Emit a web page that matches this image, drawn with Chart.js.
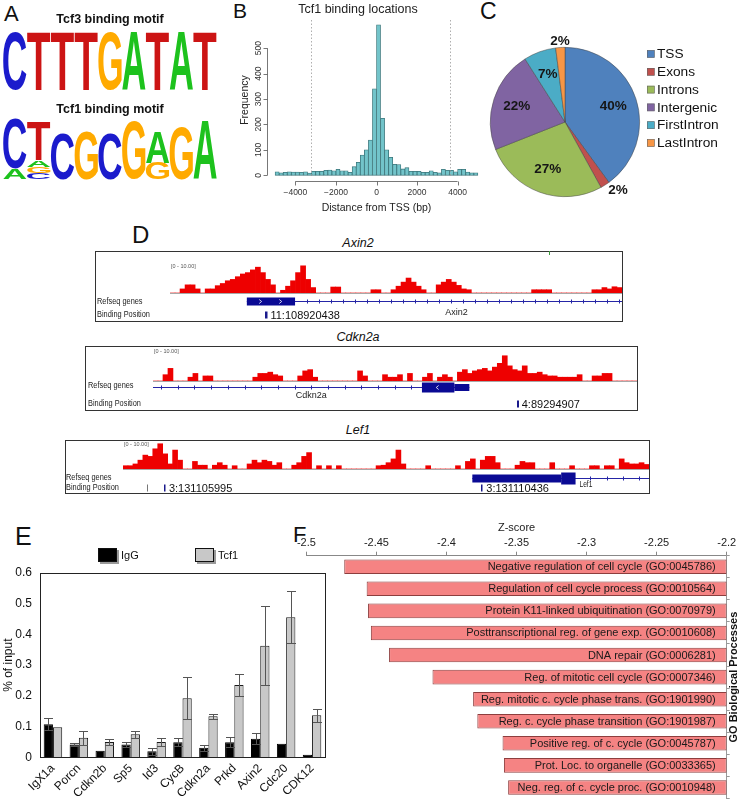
<!DOCTYPE html>
<html>
<head>
<meta charset="utf-8">
<script src="https://cdn.jsdelivr.net/npm/chart.js@4.4.1/dist/chart.umd.min.js"></script>
<style>
html,body{margin:0;padding:0;background:#fff;}
body{width:740px;height:800px;position:relative;overflow:hidden;font-family:'Liberation Sans',Arial,sans-serif;color:#111;}
canvas{position:absolute;display:block;}
.pl{position:absolute;line-height:1;color:#111;}
.tt{position:absolute;font-style:italic;font-size:12.5px;line-height:14px;width:200px;text-align:center;color:#111;}
</style>
</head>
<body>
<div class="pl" style="left:4px;top:3px;font-size:22px">A</div>
<div class="pl" style="left:233px;top:0px;font-size:21px">B</div>
<div class="pl" style="left:480px;top:0px;font-size:23px">C</div>
<div class="pl" style="left:132px;top:223px;font-size:24px">D</div>
<div class="pl" style="left:15px;top:524px;font-size:25px">E</div>
<div class="pl" style="left:293px;top:524px;font-size:22px">F</div>

<div class="tt" style="left:258px;top:236px">Axin2</div>
<div class="tt" style="left:258px;top:330px">Cdkn2a</div>
<div class="tt" style="left:258px;top:423px">Lef1</div>

<canvas id="cA1" width="220" height="92" style="left:0;top:0"></canvas>
<canvas id="cA2" width="220" height="86" style="left:0;top:95px"></canvas>
<canvas id="cB" width="256" height="215" style="left:230px;top:0"></canvas>
<canvas id="cC" width="255" height="170" style="left:485px;top:30px"></canvas>
<canvas id="cD1" width="528" height="71" style="left:95px;top:251px"></canvas>
<canvas id="cD2" width="553" height="65" style="left:85px;top:346px"></canvas>
<canvas id="cD3" width="585" height="54" style="left:65px;top:440px"></canvas>
<canvas id="cE" width="335" height="260" style="left:0;top:540px"></canvas>
<canvas id="cF" width="450" height="285" style="left:290px;top:515px"></canvas>

<script>
// ---------------- DATA ----------------
// A: sequence logos (information content in bits per position)
const motifPositions = ['1','2','3','4','5','6','7','8','9'];
const tcf3Letters = ['C','T','T','T','G','A','T','A','T'];
const tcf3Bits    = [2, 2, 2, 2, 2, 2, 2, 2, 2];
const tcf1Layer1Letters = ['A','C','C','G','C','G','G','G','A'];
const tcf1Layer1Bits    = [0.35,0.21,1.5,1.59,1.5,1.89,0.54,1.72,1.91];
const tcf1Layer2Letters = ['C','G','','','','','A','',''];
const tcf1Layer2Bits    = [1.61,0.19,0,0,0,0,1.0,0,0];
const tcf1Layer3Letters = ['','A','','','','','','',''];
const tcf1Layer3Bits    = [0,0.21,0,0,0,0,0,0,0];
const tcf1Layer4Letters = ['','T','','','','','','',''];
const tcf1Layer4Bits    = [0,1.24,0,0,0,0,0,0,0];

// B: histogram of binding distance from TSS (200 bp bins)
const histBinCenters = [-4900,-4700,-4500,-4300,-4100,-3900,-3700,-3500,-3300,-3100,
  -2900,-2700,-2500,-2300,-2100,-1900,-1700,-1500,-1300,-1100,
  -900,-700,-500,-300,-100,100,300,500,700,900,
  1100,1300,1500,1700,1900,2100,2300,2500,2700,2900,
  3100,3300,3500,3700,3900,4100,4300,4500,4700,4900];
const histCounts = [14,10,12,14,13,13,12,14,9,16,
  16,16,20,21,18,24,18,18,12,34,
  51,80,100,139,340,592,224,100,71,43,
  42,25,30,16,16,16,12,12,18,12,
  10,24,20,20,14,24,24,13,10,10];
const histXTicks = [-4000,-2000,0,2000,4000];
const histYTicks = [0,100,200,300,400,500];
const histMarkers = [-3250,3600];

// C: genomic distribution (%)
const pieLabels = ['TSS','Exons','Introns','Intergenic','FirstIntron','LastIntron'];
const pieValues = [40,2,27,22,7,2];

// D: ChIP-seq signal tracks (binned coverage, 0-10 scale)
const axin2Signal = [0,0,1.5,3,3,1.5,0,1.5,1.5,2.7,
  3.5,4.5,5,6,7,7.5,8.5,9.5,7.5,5,
  3,0,1,2.5,4.5,7.5,10,5,2,0,
  0,0,2.2,2.2,0,0,0,0,0,0,
  1.2,1.2,0,0,1.2,2.5,4,5.5,4,2.5,
  1.2,0,0,3,4,5,4,2.8,1.5,1.2,
  0,0,0,0,0,0,0,0,0,0,
  0,0,1.2,1.2,1.2,1.2,0,0,0,0,
  0,0,0,0,1.2,1.2,2,1.5,2.3,2];
const axin2Exons = [[15.3,24.9]];
const axin2GeneSpan = [15.3,90];
const axin2BindSites = [19.2];
const axin2BindLabels = ['11:108920438'];
const axin2GeneNameAt = [57];

const cdkn2aSignal = [0,0,2.5,5,0,0,0,1.5,3,0,
  2,2,0,0,0,0,0,0,0,0,
  1.5,3,3,3.5,2.5,2,0,0,0,2,
  4,4.5,1.5,0,0,0,0,0,0,0,
  0,4,2,0,0,0,2.5,1.5,1.5,2.5,
  0,3,0,0,1.5,3,0,1.5,2.5,1.5,
  0,3.5,4.5,3,4,4.5,5,4,5.5,7,
  10,6,4.5,4,6,3,3,3.5,2.5,2,
  2,1.5,1.5,1.5,1.5,2.5,0,0,2,2,
  3,3,0,0,0,0,0];
const cdkn2aExons = [[53.9,60.4],[60.4,63.4]];
const cdkn2aGeneSpan = [0,63.4];
const cdkn2aBindSites = [73.1];
const cdkn2aBindLabels = ['4:89294907'];
const cdkn2aGeneNameAt = [31.7];

const lef1Signal = [1.3,1.3,2,3.5,5.5,5,8,10,6,2,
  7.5,3.5,0,0,3,1.5,1.5,0,1.5,2.5,
  1.5,0,1.3,0,0,2,3.5,2.5,3.5,3,
  1.5,2.5,0,0,1.5,2.5,5,6.5,0,1.3,
  0,1.3,0,1.3,0,0,0,0,0,0,
  0,1.3,1.5,2.5,4,7.5,2,0,0,0,
  0,1.3,0,0,0,0,0,1.3,0,3,
  4,0,3.5,5,5,2.5,0,0,0,1.5,
  3,2.5,2.5,0,0,0,2.5,0,0,0,
  1.3,0,0,0,1.3,1.3,0,1.3,1.3,0,
  4,2.5,2,2,2.5,1.8];
const lef1Exons = [[70.4,88.3],[88.3,91.2]];
const lef1GeneSpan = [70.4,106];
const lef1BindSites = [5.0,8.45,72.4];
const lef1BindLabels = ['','3:131105995','3:131110436'];
const lef1GeneNameAt = [93.2];

// E: ChIP-qPCR (% of input)
const eGenes = ['IgX1a','Porcn','Cdkn2b','Sp5','Id3','CycB','Cdkn2a','Prkd','Axin2','Cdc20','CDK12'];
const iggValues = [0.108,0.042,0.021,0.042,0.020,0.049,0.031,0.049,0.060,0.044,0.008];
const iggErrors = [0.019,0.004,0,0.009,0.011,0.013,0.009,0.016,0.018,0,0];
const tcf1Values = [0.098,0.064,0.050,0.075,0.050,0.192,0.134,0.235,0.363,0.456,0.137];
const tcf1Errors = [0,0.023,0.011,0.011,0.013,0.068,0.008,0.035,0.128,0.085,0.021];
const eYTicks = [0,0.1,0.2,0.3,0.4,0.5,0.6];

// F: GO enrichment z-scores
const goTerms = ['Negative regulation of cell cycle (GO:0045786)',
  'Regulation of cell cycle process (GO:0010564)',
  'Protein K11-linked ubiquitination (GO:0070979)',
  'Posttranscriptional reg. of gene exp. (GO:0010608)',
  'DNA repair (GO:0006281)',
  'Reg. of mitotic cell cycle (GO:0007346)',
  'Reg. mitotic c. cycle phase trans. (GO:1901990)',
  'Reg. c. cycle phase transition (GO:1901987)',
  'Positive reg. of c. cycle (GO:0045787)',
  'Prot. Loc. to organelle (GO:0033365)',
  'Neg. reg. of c. cycle proc. (GO:0010948)'];
const zScores = [-2.473,-2.457,-2.456,-2.454,-2.441,-2.410,-2.381,-2.378,-2.360,-2.359,-2.356];
const zTicks = [-2.5,-2.45,-2.4,-2.35,-2.3,-2.25,-2.2];
const zRight = -2.2;

// ---------------- SETUP ----------------
const FONT = "'Liberation Sans', Arial, Helvetica, sans-serif";
Chart.defaults.font.family = FONT;
Chart.defaults.color = '#222';
Chart.defaults.animation = false;
Chart.defaults.responsive = false;
Chart.defaults.maintainAspectRatio = false;
Chart.defaults.devicePixelRatio = 1;
Chart.defaults.events = [];
Chart.defaults.plugins.legend.display = false;
Chart.defaults.plugins.tooltip.enabled = false;

const letterColors = {A:'#1DC21D', C:'#1B1BCC', G:'#FFAA00', T:'#CC1414'};

function drawLetter(ctx, ch, x, y, w, h, color) {
  ctx.save();
  ctx.font = 'bold 100px ' + FONT;
  const m = ctx.measureText(ch);
  const gw = m.actualBoundingBoxLeft + m.actualBoundingBoxRight;
  const gh = m.actualBoundingBoxAscent + m.actualBoundingBoxDescent;
  ctx.translate(x, y);
  ctx.scale(w / gw, h / gh);
  ctx.fillStyle = color;
  ctx.textAlign = 'left';
  ctx.textBaseline = 'alphabetic';
  ctx.fillText(ch, m.actualBoundingBoxLeft, m.actualBoundingBoxAscent);
  ctx.restore();
}

const logoPlugin = {
  id: 'logoLetters',
  afterDatasetsDraw(chart) {
    const ctx = chart.ctx;
    chart.data.datasets.forEach((ds, di) => {
      const meta = chart.getDatasetMeta(di);
      meta.data.forEach((bar, i) => {
        const L = ds.letters[i];
        if (!L || !ds.data[i]) return;
        const p = bar.getProps(['x','y','base','width'], true);
        const top = Math.min(p.y, p.base), h = Math.abs(p.base - p.y);
        drawLetter(ctx, L, p.x - p.width / 2, top, p.width, h, letterColors[L]);
      });
    });
  }
};

function logoChart(id, title, layers, titlePad, padBottom) {
  return new Chart(document.getElementById(id), {
    type: 'bar',
    data: {
      labels: motifPositions,
      datasets: layers.map(l => ({data: l.bits, letters: l.letters, backgroundColor: 'rgba(0,0,0,0)',
        borderWidth: 0, barPercentage: 0.98, categoryPercentage: 1}))
    },
    options: {
      layout: {padding: {left: 3, right: 3, top: 0, bottom: padBottom}},
      plugins: {title: {display: true, text: title, color: '#111',
        font: {size: 12.5, weight: 'bold'}, padding: titlePad}},
      scales: {x: {display: false, stacked: true}, y: {display: false, stacked: true, min: 0, max: 2}}
    },
    plugins: [logoPlugin]
  });
}
logoChart('cA1', 'Tcf3 binding motif', [{bits: tcf3Bits, letters: tcf3Letters}], {top: 12.5, bottom: 4.5}, 2);
logoChart('cA2', 'Tcf1 binding motif', [
  {bits: tcf1Layer1Bits, letters: tcf1Layer1Letters},
  {bits: tcf1Layer2Bits, letters: tcf1Layer2Letters},
  {bits: tcf1Layer3Bits, letters: tcf1Layer3Letters},
  {bits: tcf1Layer4Bits, letters: tcf1Layer4Letters}], {top: 7.5, bottom: 0}, 1.7);

// ---------------- B ----------------
const minusFmt = v => (v < 0 ? '\u2212' + Math.abs(v) : String(v));
const rAxesPlugin = {
  id: 'rAxes',
  afterDraw(chart) {
    const ctx = chart.ctx, xs = chart.scales.x, ys = chart.scales.y, ca = chart.chartArea;
    ctx.save();
    ctx.strokeStyle = '#555'; ctx.lineWidth = 0.8;
    const y0 = Math.round(ca.bottom) + 0.5;
    ctx.beginPath();
    ctx.moveTo(xs.getPixelForValue(histXTicks[0]), y0);
    ctx.lineTo(xs.getPixelForValue(histXTicks[histXTicks.length - 1]), y0);
    histXTicks.forEach(v => { const x = Math.round(xs.getPixelForValue(v)) + 0.5; ctx.moveTo(x, y0); ctx.lineTo(x, y0 + 4); });
    const x0 = Math.round(ca.left) + 0.5;
    ctx.moveTo(x0, ys.getPixelForValue(histYTicks[0]));
    ctx.lineTo(x0, ys.getPixelForValue(histYTicks[histYTicks.length - 1]));
    histYTicks.forEach(v => { const y = Math.round(ys.getPixelForValue(v)) + 0.5; ctx.moveTo(x0, y); ctx.lineTo(x0 - 4, y); });
    ctx.stroke();
    ctx.setLineDash([1.5, 2]); ctx.strokeStyle = '#9a9a9a';
    ctx.beginPath();
    histMarkers.forEach(v => { const x = Math.round(xs.getPixelForValue(v)) + 0.5; ctx.moveTo(x, ca.top + 1); ctx.lineTo(x, ca.bottom - 4); });
    ctx.stroke();
    ctx.restore();
  }
};
new Chart(document.getElementById('cB'), {
  type: 'bar',
  data: {datasets: [{data: histBinCenters.map((c, i) => ({x: c, y: histCounts[i]})),
    backgroundColor: '#72C4CA', borderColor: '#3B7479', borderWidth: 0.8, borderSkipped: false,
    barPercentage: 1, categoryPercentage: 1}]},
  options: {
    layout: {padding: 0},
    plugins: {title: {display: true, text: 'Tcf1 binding locations', color: '#222',
      font: {size: 12.5, weight: 'normal'}, padding: {top: 2, bottom: 2}}},
    scales: {
      x: {type: 'linear', min: -5400, max: 5400, offset: false,
        grid: {display: false, drawTicks: false}, border: {display: false},
        afterBuildTicks: s => { s.ticks = histXTicks.map(v => ({value: v})); },
        afterFit: s => { s.height = 34; },
        ticks: {font: {size: 8.5}, color: '#333', padding: 7, maxRotation: 0, autoSkip: false, callback: v => minusFmt(v)},
        title: {display: true, text: 'Distance from TSS (bp)', color: '#222', font: {size: 10.5}, padding: {top: 0, bottom: 0.7}}},
      y: {min: -22.4, max: 615,
        grid: {display: false, drawTicks: false}, border: {display: false},
        afterBuildTicks: s => { s.ticks = histYTicks.map(v => ({value: v})); },
        afterFit: s => { s.width = 37; },
        ticks: {font: {size: 8.5}, color: '#333', minRotation: 90, maxRotation: 90, crossAlign: 'center', padding: 1, autoSkip: false},
        title: {display: true, text: 'Frequency', color: '#222', font: {size: 10.5}, padding: {top: 8.7, bottom: 0}}}
    }
  },
  plugins: [rAxesPlugin]
});

// ---------------- C ----------------
const pieColors = ['#4F81BD','#C0504D','#9BBB59','#8064A2','#4BACC6','#F79646'];
const pieTextPlugin = {
  id: 'pieText',
  afterDatasetsDraw(chart) {
    const ctx = chart.ctx, meta = chart.getDatasetMeta(0), ds = chart.data.datasets[0];
    ctx.save();
    ctx.font = 'bold 13.5px ' + FONT; ctx.fillStyle = '#161616'; ctx.textBaseline = 'middle';
    meta.data.forEach((arc, i) => {
      const p = arc.getProps(['x','y','startAngle','endAngle','outerRadius'], true);
      const mid = (p.startAngle + p.endAngle) / 2, c = Math.cos(mid), s = Math.sin(mid);
      const txt = ds.data[i] + '%';
      if (ds.data[i] < 5) {
        const r = p.outerRadius * 1.08;
        ctx.textAlign = Math.abs(c) < 0.2 ? 'center' : (c > 0 ? 'left' : 'right');
        ctx.fillText(txt, p.x + c * r, p.y + s * r);
      } else {
        const r = p.outerRadius * 0.68;
        ctx.textAlign = 'center';
        ctx.fillText(txt, p.x + c * r, p.y + s * r);
      }
    });
    const x0 = chart.chartArea.right + 7, y0 = 24;
    ctx.font = '13.7px ' + FONT; ctx.textAlign = 'left';
    chart.data.labels.forEach((lab, i) => {
      const y = y0 + i * 17.8;
      ctx.fillStyle = pieColors[i]; ctx.fillRect(x0, y - 3.8, 7.5, 7.5);
      ctx.strokeStyle = '#666'; ctx.lineWidth = 0.6; ctx.strokeRect(x0 + 0.3, y - 3.5, 7, 7);
      ctx.fillStyle = '#111'; ctx.fillText(lab, x0 + 10, y + 0.5);
    });
    ctx.restore();
  }
};
new Chart(document.getElementById('cC'), {
  type: 'pie',
  data: {labels: pieLabels, datasets: [{data: pieValues, backgroundColor: pieColors,
    borderColor: 'rgba(70,70,70,0.7)', borderWidth: 0.7, hoverOffset: 0, offset: 0}]},
  options: {layout: {padding: {left: 5, top: 17, right: 100, bottom: 3}}},
  plugins: [pieTextPlugin]
});

// ---------------- D ----------------
function condText(ctx, t, x, y, size, sx, color) {
  ctx.save(); ctx.font = size + 'px ' + FONT; ctx.translate(x, y); ctx.scale(sx, 1);
  ctx.textAlign = 'left'; ctx.textBaseline = 'middle'; ctx.fillStyle = color || '#222';
  ctx.fillText(t, 0, 0); ctx.restore();
}
const trackPlugin = {
  id: 'track',
  afterDatasetsDraw(chart, args, o) {
    const ctx = chart.ctx, xs = chart.scales.x, ca = chart.chartArea, W = chart.width, H = chart.height;
    const X = v => xs.getPixelForValue(v);
    ctx.save();
    ctx.strokeStyle = '#333'; ctx.lineWidth = 1; ctx.strokeRect(0.5, 0.5, W - 1, H - 1);
    ctx.strokeStyle = '#A8A8A8'; ctx.beginPath();
    ctx.moveTo(ca.left, Math.round(ca.bottom) + 0.5); ctx.lineTo(ca.right, Math.round(ca.bottom) + 0.5); ctx.stroke();
    ctx.fillStyle = '#555'; ctx.font = '5.5px ' + FONT; ctx.textBaseline = 'middle'; ctx.textAlign = 'left';
    ctx.fillText('[0 - 10.00]', ca.left + 1, o.rangeY);
    condText(ctx, 'Refseq genes', o.labelX, o.refY, 9, 0.82);
    condText(ctx, 'Binding Position', o.labelX, o.bindY, 9, 0.82);
    const gy = o.geneY;
    ctx.strokeStyle = '#2525A6'; ctx.lineWidth = 1;
    ctx.beginPath(); ctx.moveTo(X(o.span[0]), gy + 0.5); ctx.lineTo(X(o.span[1]), gy + 0.5); ctx.stroke();
    const inExon = px => o.exons.some(e => px >= X(e[0]) - 2 && px <= X(e[1]) + 2);
    ctx.beginPath();
    for (let px = X(o.span[0]) + o.tickOffset; px < X(o.span[1]) - 1; px += o.tickStep) {
      if (inExon(px)) continue;
      const rx = Math.round(px) + 0.5; ctx.moveTo(rx, gy - 1.5); ctx.lineTo(rx, gy + 2.5);
    }
    ctx.stroke();
    ctx.fillStyle = '#0A0A94';
    o.exons.forEach((e, i) => { const h = o.exonH[i]; ctx.fillRect(X(e[0]), gy + 0.5 - h / 2, X(e[1]) - X(e[0]), h); });
    ctx.strokeStyle = '#ffffff'; ctx.lineWidth = 0.8;
    o.chevrons.forEach(cv => {
      const cx = X(cv), d = o.strand;
      ctx.beginPath(); ctx.moveTo(cx - d * 1.2, gy - 1.5); ctx.lineTo(cx + d * 1.2, gy + 0.5); ctx.lineTo(cx - d * 1.2, gy + 2.5); ctx.stroke();
    });
    o.sites.forEach((s, i) => {
      ctx.fillStyle = o.siteColors[i];
      ctx.fillRect(Math.round(X(s)) - 1, o.bindY - 3.5, o.siteW[i], 7);
      if (o.siteLabels[i]) { ctx.fillStyle = '#111'; ctx.font = '11px ' + FONT; ctx.textAlign = 'left'; ctx.textBaseline = 'middle';
        ctx.fillText(o.siteLabels[i], X(s) + 4, o.bindY + 0.5); }
    });
    o.nameAt.forEach(n => condText(ctx, o.name, X(n) - o.nameW / 2, o.nameY, o.nameSize, o.nameSx));
    if (o.topMark !== undefined) {
      ctx.strokeStyle = '#3C9A3C'; ctx.lineWidth = 1; ctx.beginPath();
      ctx.moveTo(Math.round(X(o.topMark)) + 0.5, 0); ctx.lineTo(Math.round(X(o.topMark)) + 0.5, 4); ctx.stroke();
    }
    ctx.restore();
  }
};
function trackChart(id, signal, pad, opts) {
  return new Chart(document.getElementById(id), {
    type: 'bar',
    data: {datasets: [{data: signal.map((v, i) => ({x: i + 0.5, y: v})), backgroundColor: '#EE0000',
      borderWidth: 0, barPercentage: 1, categoryPercentage: 1}]},
    options: {
      layout: {padding: pad},
      scales: {x: {type: 'linear', display: false, offset: false, min: 0, max: signal.length},
               y: {display: false, min: 0, max: 10.3}},
      plugins: {track: opts}
    },
    plugins: [trackPlugin]
  });
}
trackChart('cD1', axin2Signal, {left: 75, right: 1, top: 14, bottom: 29}, {
  rangeY: 15.5, labelX: 2, refY: 51, bindY: 64, geneY: 50, span: axin2GeneSpan, exons: axin2Exons, exonH: [8],
  chevrons: [18, 22], strand: 1, topMark: 75.5,
  tickStep: 12, tickOffset: 60, sites: axin2BindSites, siteLabels: axin2BindLabels, siteColors: ['#1A1A8C'], siteW: [2.5],
  name: 'Axin2', nameAt: axin2GeneNameAt, nameY: 62, nameSize: 9, nameSx: 1, nameW: 22});
trackChart('cD2', cdkn2aSignal, {left: 68, right: 1, top: 9, bottom: 30}, {
  rangeY: 5, labelX: 3, refY: 40, bindY: 58, geneY: 41, span: cdkn2aGeneSpan, exons: cdkn2aExons, exonH: [10, 7],
  chevrons: [57], strand: -1,
  tickStep: 16.7, tickOffset: 8, sites: cdkn2aBindSites, siteLabels: cdkn2aBindLabels, siteColors: ['#1A1A8C'], siteW: [2],
  name: 'Cdkn2a', nameAt: cdkn2aGeneNameAt, nameY: 50, nameSize: 9, nameSx: 1, nameW: 31});
trackChart('cD3', lef1Signal, {left: 58, right: 1, top: 3, bottom: 25}, {
  rangeY: 4, labelX: 1, refY: 38, bindY: 48, geneY: 38, span: lef1GeneSpan, exons: lef1Exons, exonH: [8, 12],
  chevrons: [], strand: -1,
  tickStep: 16.4, tickOffset: 3, sites: lef1BindSites, siteLabels: lef1BindLabels, siteColors: ['#777', '#1A1A8C', '#1A1A8C'], siteW: [1, 1.5, 1.5],
  name: 'Lef1', nameAt: lef1GeneNameAt, nameY: 44.5, nameSize: 8.5, nameSx: 0.78, nameW: 12});

// ---------------- E ----------------
const errorBarPlugin = {
  id: 'errBars',
  afterDatasetsDraw(chart) {
    const ctx = chart.ctx, ys = chart.scales.y;
    ctx.save(); ctx.strokeStyle = '#555'; ctx.lineWidth = 1;
    chart.data.datasets.forEach((ds, di) => {
      chart.getDatasetMeta(di).data.forEach((bar, i) => {
        const e = ds.errors[i]; if (!e) return;
        const x = Math.round(bar.x) + 0.5, yt = Math.round(ys.getPixelForValue(ds.data[i] + e)) + 0.5,
              yb = Math.round(ys.getPixelForValue(Math.max(ds.data[i] - e, 0))) + 0.5, hw = 4.5;
        ctx.beginPath(); ctx.moveTo(x, yt); ctx.lineTo(x, yb);
        ctx.moveTo(x - hw, yt); ctx.lineTo(x + hw, yt); ctx.moveTo(x - hw, yb); ctx.lineTo(x + hw, yb); ctx.stroke();
      });
    });
    const ca = chart.chartArea;
    ctx.strokeStyle = '#222'; ctx.lineWidth = 1;
    ctx.strokeRect(Math.round(ca.left) + 0.5, Math.round(ca.top) + 0.5, Math.round(ca.right - ca.left), Math.round(ca.bottom - ca.top));
    ctx.font = '11px ' + FONT; ctx.textBaseline = 'middle'; ctx.textAlign = 'left';
    chart.data.datasets.forEach((ds, di) => {
      const lx = di === 0 ? 98 : 195;
      ctx.fillStyle = '#9a9a9a'; ctx.fillRect(lx + 2, 10, 19, 14);
      ctx.fillStyle = ds.backgroundColor; ctx.fillRect(lx, 8, 19, 14);
      ctx.strokeStyle = '#111'; ctx.strokeRect(lx + 0.5, 8.5, 18, 13);
      ctx.fillStyle = '#111'; ctx.fillText(ds.label, lx + 23, 15.5);
    });
    ctx.restore();
  }
};
new Chart(document.getElementById('cE'), {
  type: 'bar',
  data: {labels: eGenes, datasets: [
    {label: 'IgG', data: iggValues, errors: iggErrors, backgroundColor: '#000', borderColor: '#000', borderWidth: 1},
    {label: 'Tcf1', data: tcf1Values, errors: tcf1Errors, backgroundColor: '#C8C8C8', borderColor: '#1a1a1a', borderWidth: 1}]},
  options: {
    layout: {padding: {top: 33, right: 10, left: 0, bottom: 0}},
    datasets: {bar: {barPercentage: 1, categoryPercentage: 0.714}},
    scales: {
      x: {grid: {display: false, drawTicks: false}, border: {display: false},
          ticks: {minRotation: 45, maxRotation: 45, font: {size: 12}, color: '#111', padding: 4, autoSkip: false},
          afterFit: s => { s.height = 42.7; }},
      y: {min: 0, max: 0.6, grid: {display: false, drawTicks: false}, border: {display: false},
          afterBuildTicks: s => { s.ticks = eYTicks.map(v => ({value: v})); },
          ticks: {font: {size: 12}, color: '#111', padding: 8, callback: v => String(v)},
          afterFit: s => { s.width = 40; },
          title: {display: true, text: '% of input', font: {size: 12}, color: '#111', padding: {top: 1, bottom: 0}}}
    }
  },
  plugins: [errorBarPlugin]
});

// ---------------- F ----------------
const fLabelPlugin = {
  id: 'fLabels',
  afterDatasetsDraw(chart) {
    const ctx = chart.ctx, xs = chart.scales.x, ca = chart.chartArea;
    ctx.save();
    ctx.font = '11px ' + FONT; ctx.fillStyle = '#1a1a1a'; ctx.textAlign = 'right'; ctx.textBaseline = 'middle';
    chart.getDatasetMeta(0).data.forEach((b, i) => ctx.fillText(chart.data.labels[i], xs.getPixelForValue(zRight) - 11, b.y + 0.5));
    ctx.font = 'bold 11px ' + FONT; ctx.fillStyle = '#111'; ctx.textAlign = 'center';
    ctx.translate(ca.right + 7.5, (ca.top + ca.bottom) / 2); ctx.rotate(-Math.PI / 2);
    ctx.fillText('GO Biological Processes', 0, 0);
    ctx.restore();
  }
};
new Chart(document.getElementById('cF'), {
  type: 'bar',
  data: {labels: goTerms, datasets: [{data: zScores.map(v => [v, zRight]), backgroundColor: '#F58383',
    borderColor: '#8D3E3E', borderWidth: 1, borderSkipped: false, barPercentage: 0.66, categoryPercentage: 1}]},
  options: {
    indexAxis: 'y',
    layout: {padding: {left: 16.4, right: 0, top: 0, bottom: 1.5}},
    scales: {
      x: {position: 'top', min: -2.5, max: -2.2,
          afterBuildTicks: s => { s.ticks = zTicks.map(v => ({value: v})); },
          grid: {display: true, drawOnChartArea: false, drawTicks: true, tickLength: 4, color: '#888'},
          border: {display: true, color: '#888'},
          ticks: {font: {size: 11}, color: '#222', padding: 2.5, maxRotation: 0, autoSkip: false, callback: v => String(v)},
          title: {display: true, text: 'Z-score', font: {size: 11}, color: '#222', padding: {top: 6.4, bottom: 0}},
          afterFit: s => { s.height = 40.7; }},
      y: {position: 'right',
          grid: {display: true, drawOnChartArea: false, drawTicks: true, tickLength: 3, offset: true, color: '#999'},
          border: {display: true, color: '#999'},
          ticks: {display: false},
          afterFit: s => { s.width = 13.3; }}
    }
  },
  plugins: [fLabelPlugin]
});
</script>
</body>
</html>
